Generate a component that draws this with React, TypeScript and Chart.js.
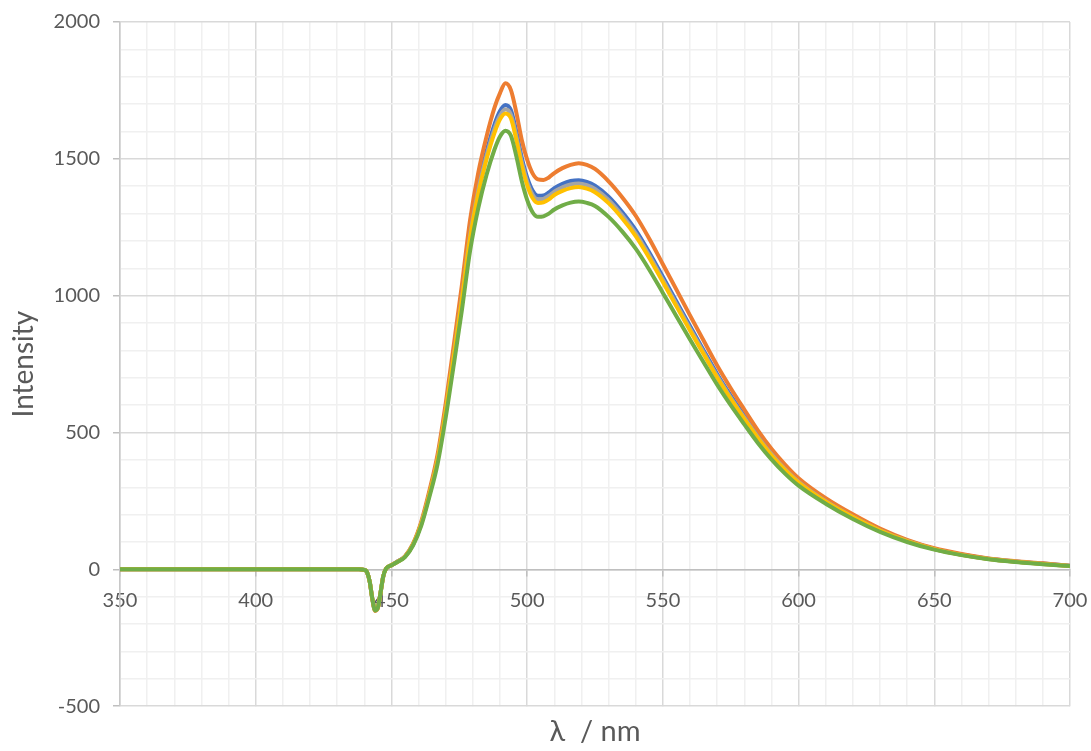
import React, { useEffect, useRef } from "react";
import { Chart, registerables } from "chart.js";

Chart.register(...registerables);

const wavelengths = [350, 400, 438, 440, 441, 442, 443, 444, 445, 446, 447, 448, 450, 452, 455, 458, 461, 464, 467, 470, 473, 476, 479, 482, 485, 488, 490, 492, 494, 496, 498, 500, 502, 504, 506, 508, 510, 513, 516, 519, 522, 525, 530, 535, 540, 545, 550, 555, 560, 565, 570, 575, 580, 585, 590, 595, 600, 610, 620, 630, 640, 650, 660, 670, 680, 690, 700];

const seriesBlue = [0, 0, 0, -2, -10, -45, -110, -150, -140, -85, -25, 2, 15, 27, 47, 92, 168, 278, 406, 586, 793, 1005, 1234, 1400, 1525, 1627, 1675, 1697, 1678, 1600, 1505, 1432, 1384, 1365, 1366, 1377, 1393, 1409, 1419, 1422, 1416, 1402, 1362, 1306, 1240, 1158, 1069, 979, 889, 801, 714, 635, 561, 489, 425, 370, 323, 251, 194, 144, 105, 75, 54, 39, 29, 21, 13];

const seriesOrange = [0, 0, 0, -2, -10, -45, -110, -152, -142, -85, -25, 2, 15, 27, 48, 95, 175, 288, 420, 607, 822, 1042, 1278, 1450, 1580, 1688, 1740, 1776, 1752, 1670, 1570, 1497, 1447, 1425, 1423, 1432, 1448, 1466, 1478, 1484, 1478, 1463, 1418, 1360, 1292, 1208, 1115, 1022, 928, 836, 745, 662, 584, 508, 441, 383, 333, 260, 201, 149, 108, 77, 56, 40, 30, 22, 13];

const seriesGray = [0, 0, 0, -2, -10, -45, -110, -150, -140, -85, -25, 2, 15, 27, 47, 92, 168, 276, 403, 581, 786, 996, 1222, 1385, 1510, 1610, 1658, 1681, 1662, 1584, 1490, 1417, 1370, 1352, 1354, 1365, 1380, 1396, 1406, 1410, 1404, 1390, 1350, 1294, 1228, 1147, 1058, 969, 880, 793, 707, 628, 555, 484, 421, 366, 320, 249, 192, 143, 104, 74, 53, 38, 28, 20, 12];

const seriesYellow = [0, 0, 0, -2, -10, -45, -110, -150, -140, -85, -25, 2, 15, 26, 46, 91, 166, 274, 400, 577, 780, 988, 1212, 1373, 1497, 1596, 1645, 1666, 1648, 1570, 1477, 1404, 1357, 1339, 1341, 1352, 1368, 1383, 1393, 1397, 1391, 1378, 1338, 1283, 1218, 1138, 1050, 961, 873, 787, 701, 623, 550, 480, 417, 363, 317, 247, 191, 142, 103, 74, 53, 38, 28, 20, 12];

const seriesGreen = [0, 0, 0, -2, -10, -45, -110, -150, -140, -85, -25, 2, 15, 26, 45, 88, 160, 265, 385, 555, 750, 950, 1165, 1320, 1440, 1535, 1582, 1603, 1585, 1510, 1420, 1350, 1305, 1288, 1290, 1300, 1315, 1330, 1340, 1344, 1339, 1328, 1288, 1235, 1172, 1095, 1010, 925, 840, 757, 675, 600, 530, 462, 402, 350, 306, 240, 184, 137, 100, 72, 52, 37, 27, 19, 12];

const xMajorStep = 50;
const yMajorStep = 500;
const xAxisTitle = "λ  / nm";
const yAxisTitle = "Intensity";

const FONT = "Lato, 'Open Sans', 'Liberation Sans', sans-serif";
const TEXT = "#595959";

export default function App() {
  const canvasRef = useRef<HTMLCanvasElement | null>(null);

  useEffect(() => {
    document.body.style.margin = "0";
    const canvas = canvasRef.current;
    if (!canvas) return;
    const mk = (label: string, data: number[], color: string, order: number) => ({
      label,
      data: wavelengths.map((x, i) => ({ x, y: data[i] })),
      borderColor: color,
      backgroundColor: color,
      borderWidth: 4,
      pointRadius: 0,
      cubicInterpolationMode: "monotone" as const,
      order,
    });
    const chart = new Chart(canvas, {
      type: "line",
      data: {
        datasets: [
          mk("Series1", seriesBlue, "#4472C4", 5),
          mk("Series2", seriesOrange, "#ED7D31", 4),
          mk("Series3", seriesGray, "#A5A5A5", 3),
          mk("Series4", seriesYellow, "#FFC000", 2),
          mk("Series5", seriesGreen, "#70AD47", 1),
        ],
      },
      options: {
        responsive: false,
        animation: false,
        events: [],
        layout: { padding: { top: 22, right: 21, left: 0, bottom: 0 } },
        plugins: {
          legend: { display: false },
          tooltip: { enabled: false },
          title: {
            display: true,
            position: "bottom",
            fullSize: false,
            text: xAxisTitle,
            color: TEXT,
            font: { family: FONT, size: 29, weight: "normal" },
            padding: { top: 8, bottom: 2 },
          },
        },
        scales: {
          x: {
            type: "linear",
            min: 350,
            max: 700,
            position: { y: 0 } as any,
            afterFit: (axis: any) => {
              axis.paddingLeft = 0;
              axis.paddingRight = 0;
            },
            ticks: {
              stepSize: 10,
              autoSkip: false,
              maxTicksLimit: 1000,
              maxRotation: 0,
              padding: 13,
              color: TEXT,
              font: { family: FONT, size: 20 },
              callback: (v: any) => (Number(v) % xMajorStep === 0 ? String(v) : ""),
            },
            grid: {
              color: (ctx: any) => (ctx.tick && ctx.tick.value % xMajorStep === 0 ? "#d9d9d9" : "#f0f0f0"),
              lineWidth: 1.5,
              tickLength: 6,
              tickColor: (ctx: any) => (ctx.tick && ctx.tick.value % xMajorStep === 0 ? "#bfbfbf" : "rgba(0,0,0,0)"),
            },
            border: { display: true, color: "#bfbfbf", width: 1.5 },
          },
          y: {
            type: "linear",
            min: -500,
            max: 2000,
            afterFit: (axis: any) => {
              axis.paddingTop = 0;
              axis.paddingBottom = 0;
            },
            ticks: {
              stepSize: 100,
              autoSkip: false,
              maxTicksLimit: 1000,
              padding: 13,
              color: TEXT,
              font: { family: FONT, size: 20 },
              callback: (v: any) => (Number(v) % yMajorStep === 0 ? String(v) : ""),
            },
            grid: {
              color: (ctx: any) => (ctx.tick && ctx.tick.value % yMajorStep === 0 ? "#d9d9d9" : "#f0f0f0"),
              lineWidth: 1.5,
              tickLength: 7,
              tickColor: (ctx: any) => (ctx.tick && ctx.tick.value % yMajorStep === 0 ? "#bfbfbf" : "rgba(0,0,0,0)"),
            },
            border: { display: true, color: "#c8c8c8", width: 1.5 },
            title: {
              display: true,
              text: yAxisTitle,
              color: TEXT,
              font: { family: FONT, size: 28, weight: "normal" },
              padding: { top: 7, bottom: 0 },
            },
          },
        },
      },
    });
    return () => chart.destroy();
  }, []);

  return (
    <div style={{ width: 1091, height: 751, background: "#fff" }}>
      <canvas ref={canvasRef} width={1091} height={751} style={{ display: "block" }} />
    </div>
  );
}
